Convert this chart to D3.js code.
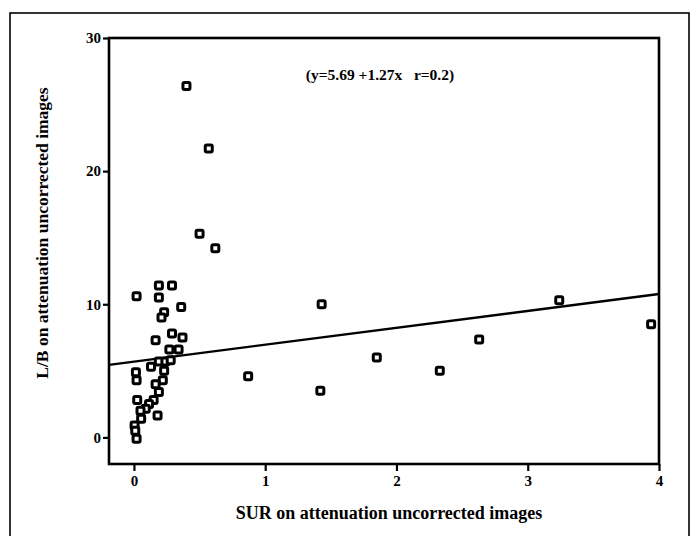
<!DOCTYPE html>
<html>
<head>
<meta charset="utf-8">
<script src="https://cdn.jsdelivr.net/npm/d3@7"></script>
<style>
  body { margin: 0; background: #fff; }
  text { font-family: "Liberation Serif", "DejaVu Serif", serif; font-weight: bold; fill: #000; }
</style>
</head>
<body>
<script>
// Data
//= ================================
var surValues = [0.40, 0.57, 0.50, 0.62, 0.19, 0.29, 0.02, 0.19, 0.36, 0.23, 0.21,
    0.165, 0.29, 0.37, 0.27, 0.34, 0.13, 0.19, 0.24, 0.28, 0.015, 0.02, 0.23, 0.22,
    0.165, 0.19, 0.15, 0.025, 0.115, 0.09, 0.05, 0.18, 0.055, 0.005, 0.01, 0.02,
    0.87, 1.43, 1.42, 1.85, 2.33, 2.63, 3.24, 3.94];
var lbValues = [26.4, 21.7, 15.3, 14.2, 11.4, 11.4, 10.6, 10.5, 9.8, 9.4, 9.0,
    7.3, 7.8, 7.5, 6.6, 6.6, 5.3, 5.7, 5.7, 5.8, 4.9, 4.3, 5.0, 4.3,
    4.0, 3.4, 2.8, 2.8, 2.5, 2.15, 2.0, 1.65, 1.4, 0.9, 0.5, -0.1,
    4.6, 10.0, 3.5, 6.0, 5.0, 7.35, 10.3, 8.5];
var xTicks = [0, 1, 2, 3, 4];
var yTicks = [0, 10, 20, 30];
var fitIntercept = 5.69;
var fitSlope = 1.27;
var fitLabel = "(y=5.69 +1.27x\u00a0\u00a0\u00a0r=0.2)";
var xTitle = "SUR on attenuation uncorrected images";
var yTitle = "L/B on attenuation uncorrected images";

var points = surValues.map((d, i) => ({ sur: d, lb: lbValues[i] }));

// Step 1: chart size
//= ================================
var svgWidth = 694;
var svgHeight = 536;
var margin = { top: 38, right: 35, bottom: 72, left: 109 };
var chartWidth = svgWidth - margin.left - margin.right;
var chartHeight = svgHeight - margin.top - margin.bottom;

var svg = d3.select("body")
    .append("svg")
    .attr("width", svgWidth)
    .attr("height", svgHeight);

// outer border of the figure
svg.append("rect")
    .attr("x", 10)
    .attr("y", 13)
    .attr("width", 679)
    .attr("height", 540)
    .attr("fill", "none")
    .attr("stroke", "#000")
    .attr("stroke-width", 1.6);

var chartGroup = svg.append("g")
    .attr("transform", `translate(${margin.left}, ${margin.top})`);

// Step 2: scales
//= ================================
var xScale = d3.scaleLinear()
    .domain([-0.19, 4])
    .range([0, chartWidth]);

var yScale = d3.scaleLinear()
    .domain([-2, 30])
    .range([chartHeight, 0]);

// Step 3: axes
//= ================================
var bottomAxis = d3.axisBottom(xScale)
    .tickValues(xTicks)
    .tickFormat(d3.format("d"))
    .tickSize(7)
    .tickPadding(4);

var leftAxis = d3.axisLeft(yScale)
    .tickValues(yTicks)
    .tickFormat(d3.format("d"))
    .tickSize(6)
    .tickPadding(2);

var xAxisG = chartGroup.append("g")
    .attr("transform", `translate(0, ${chartHeight})`)
    .call(bottomAxis);

var yAxisG = chartGroup.append("g")
    .call(leftAxis);

[xAxisG, yAxisG].forEach(function (g) {
    g.select(".domain").remove();
    g.selectAll("line").attr("stroke", "#000").attr("stroke-width", 2.2);
    g.selectAll("text")
        .style("font-family", "'Liberation Serif', serif")
        .style("font-weight", "bold")
        .style("font-size", "15px")
        .attr("fill", "#000");
});

// frame box
chartGroup.append("rect")
    .attr("width", chartWidth)
    .attr("height", chartHeight)
    .attr("fill", "none")
    .attr("stroke", "#000")
    .attr("stroke-width", 2.6);

// Step 4: regression line
//= ================================
var xDom = xScale.domain();
var fitLine = d3.line()
    .x(d => xScale(d))
    .y(d => yScale(fitIntercept + fitSlope * d));

chartGroup.append("path")
    .attr("d", fitLine(xDom))
    .attr("fill", "none")
    .attr("stroke", "#000")
    .attr("stroke-width", 2.4);

// Step 5: points
//= ================================
var box = 7;
chartGroup.selectAll(".pt")
    .data(points)
    .enter()
    .append("rect")
    .classed("pt", true)
    .attr("x", d => xScale(d.sur) - box / 2)
    .attr("y", d => yScale(d.lb) - box / 2)
    .attr("width", box)
    .attr("height", box)
    .attr("rx", 1.5)
    .attr("fill", "#fff")
    .attr("stroke", "#000")
    .attr("stroke-width", 3);

// Step 6: labels
//= ================================
chartGroup.append("text")
    .attr("x", 380 - margin.left)
    .attr("y", 42)
    .attr("text-anchor", "middle")
    .style("font-size", "15.5px")
    .text(fitLabel);

svg.append("text")
    .attr("transform", `translate(389, 519)`)
    .attr("text-anchor", "middle")
    .style("font-size", "18px")
    .text(xTitle);

svg.append("text")
    .attr("transform", `translate(48, 233) rotate(-90)`)
    .attr("text-anchor", "middle")
    .style("font-size", "17.5px")
    .text(yTitle);
</script>
</body>
</html>
